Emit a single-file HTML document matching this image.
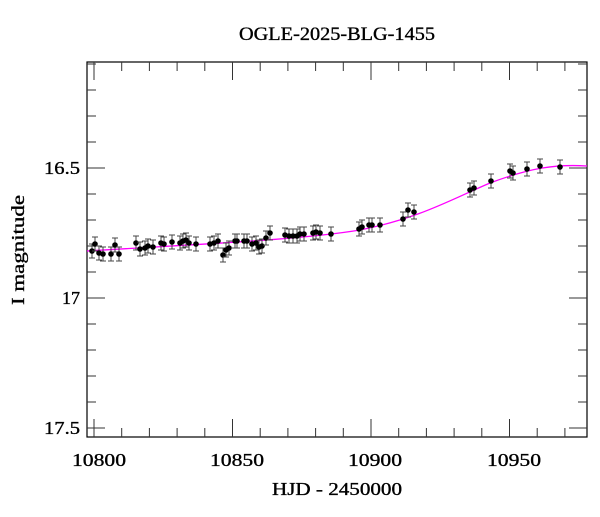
<!DOCTYPE html>
<html><head><style>body{margin:0;background:#fff}</style></head><body>
<svg width="600" height="512" xmlns="http://www.w3.org/2000/svg" font-family="Liberation Serif, serif">
<rect width="600" height="512" fill="#fff"/>
<g stroke="#000" stroke-width="0.35">
<text x="337" y="40" font-size="19" text-anchor="middle" textLength="196" lengthAdjust="spacingAndGlyphs">OGLE-2025-BLG-1455</text>
<g font-size="18" text-anchor="end">
<text x="80" y="174" textLength="36" lengthAdjust="spacingAndGlyphs">16.5</text><text x="80" y="304">17</text><text x="80" y="434" textLength="36" lengthAdjust="spacingAndGlyphs">17.5</text>
</g>
<g font-size="18" text-anchor="middle">
<text x="99" y="466" textLength="54" lengthAdjust="spacingAndGlyphs">10800</text><text x="237" y="466" textLength="54" lengthAdjust="spacingAndGlyphs">10850</text><text x="375" y="466" textLength="54" lengthAdjust="spacingAndGlyphs">10900</text><text x="514" y="466" textLength="54" lengthAdjust="spacingAndGlyphs">10950</text>
<text x="337" y="495" textLength="130" lengthAdjust="spacingAndGlyphs">HJD - 2450000</text>
</g>
<text transform="translate(24,250) rotate(-90)" font-size="18" text-anchor="middle" textLength="110" lengthAdjust="spacingAndGlyphs">I magnitude</text>
</g>
<g stroke="#000" stroke-width="1.2" fill="none">
<rect x="87" y="62" width="500" height="375"/>
</g>
<g id="ticks" stroke="#333" stroke-width="1"></g>
<path d="M87,251 C200,244 300,240 360,230 C420,218 450,200 490,183 C530,168 555,164 587,166" stroke="#f0f" stroke-width="1.3" fill="none"/>
<g id="pts"></g>
</svg>
<script>
var t=document.getElementById('ticks'),s='';
for(var d=10800;d<=10975;d+=10){var x=94+(d-10800)*2.77,L=(d%50==0)?18:9;s+='<line x1="'+x+'" y1="437" x2="'+x+'" y2="'+(437-L)+'"/><line x1="'+x+'" y1="62" x2="'+x+'" y2="'+(62+L)+'"/>';}
for(var m=16.1;m<=17.51;m+=0.1){var y=168+(m-16.5)*260,r=Math.abs(Math.round(m*10)%5)==0,L=r?18:9;s+='<line x1="87" y1="'+y+'" x2="'+(87+L)+'" y2="'+y+'"/><line x1="587" y1="'+y+'" x2="'+(587-L)+'" y2="'+y+'"/>';}
t.innerHTML=s;
var P=[[92,251],[95,244],[99,253],[103,254],[111,254],[115,245],[119,254],[136,243],[140,249],[145,248],[148,246],[153,247],[161,243],[164,244],[172,242],[180,243],[183,241],[186,240],[189,243],[196,244],[210,244],[214,243],[218,241],[223,255],[226,250],[229,248],[235,241],[237,241],[244,241],[247,241],[252,244],[256,243],[259,247],[262,246],[266,238],[270,233],[285,235],[289,236],[293,236],[297,236],[300,234],[304,234],[313,233],[316,232],[320,233],[331,234],[359,229],[362,227],[369,225],[372,225],[380,225],[403,219],[408,210],[414,212],[470,190],[474,188],[491,181],[510,171],[513,173],[527,169],[540,166],[560,167]];
var q='';P.forEach(function(p){var x=p[0],y=p[1];q+='<path d="M'+x+','+(y-7)+'V'+(y+7)+'M'+(x-3)+','+(y-7)+'H'+(x+3)+'M'+(x-3)+','+(y+7)+'H'+(x+3)+'" stroke="#444" stroke-width="1"/><circle cx="'+x+'" cy="'+y+'" r="2.8" fill="#000"/>';});
document.getElementById('pts').innerHTML=q;
</script>
</body></html>
